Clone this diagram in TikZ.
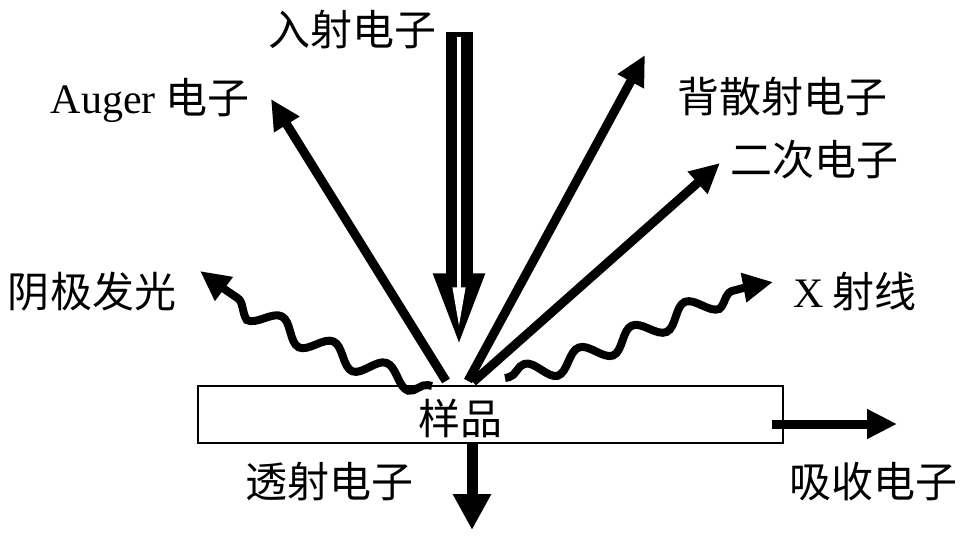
\documentclass[tikz,border=0pt]{standalone}
\usepackage{fontspec}
\setmainfont{Liberation Serif}
\newfontfamily\cjk{Noto Sans CJK SC}
\usetikzlibrary{arrows.meta,decorations.pathmorphing}
\tikzset{
  beam arrow/.style args={#1 with #2 inside}{
    line width=#1,-{Triangle[length=112pt,width=38pt]}, % outer arrow
    postaction={draw,white,line width=#2,-{Triangle[length=40pt,width=12pt]},
                shorten <=5pt,shorten >=58pt}, % hollow inside
  },
  ray/.style={line width=9pt,-{Triangle[length=30pt,width=28pt]}},
  wave ray/.style={ray,line width=8pt,decorate,
    decoration={snake,amplitude=10pt,segment length=58pt,pre length=4pt,post length=26pt}},
  label text/.style={font=\fontsize{42}{46}\selectfont\cjk,inner sep=0pt},
}
\begin{document}
\begin{tikzpicture}[x=1pt,y=-1pt]
		\useasboundingbox (0,0) rectangle (968,536);

		% sample
		\node[draw,line width=1.5pt,minimum width=585pt,minimum height=57pt,inner sep=0pt]
		(sample) at (490.5,414.5) {};
		\node[label text] (sample label) at (460,418) {样品};

		% labels
		\node[label text] (incident) at (352,30) {入射电子};
		\node[label text] (auger) at (150,100) {{\rmfamily Auger} 电子};
		\node[label text] (backscatter) at (782,97) {背散射电子};
		\node[label text] (secondary) at (814,160) {二次电子};
		\node[label text] (cathodo) at (92,292) {阴极发光};
		\node[label text] (xray) at (855,292) {{\rmfamily X} 射线};
		\node[label text] (transmitted) at (329,482) {透射电子};
		\node[label text] (absorbed) at (873,482) {吸收电子};

		% end points
		\coordinate (beam top) at (459,32);
		\coordinate (hit) at (sample.north -| beam top);
		\coordinate (auger tip) at (271,99);
		\coordinate (backscatter tip) at (645,55);
		\coordinate (secondary tip) at (720,163);
		\coordinate (cathodo tip) at (200,271);
		\coordinate (xray tip) at (773,282);
		\coordinate (transmitted tip) at (472,530);
		\coordinate (absorbed tip) at (897,424);

		\draw[beam arrow=27pt with 4pt inside] (beam top) -- (hit);

		\draw[ray] (446,381) -- (auger tip);
		\draw[ray] (468,381) -- (backscatter tip);
		\draw[ray] (473,382) -- (secondary tip);

		\draw[wave ray] (432,386) .. controls (380,375) and (260,320) .. (cathodo tip);
		\draw[wave ray] (505,378) .. controls (600,360) and (700,290) .. (xray tip);

		\draw[ray,line width=11pt,-{Triangle[length=36pt,width=36pt]}]
		(sample.south -| transmitted tip) -- (transmitted tip);
		\draw[ray] (772,424) -- (absorbed tip);

\end{tikzpicture}
\end{document}
